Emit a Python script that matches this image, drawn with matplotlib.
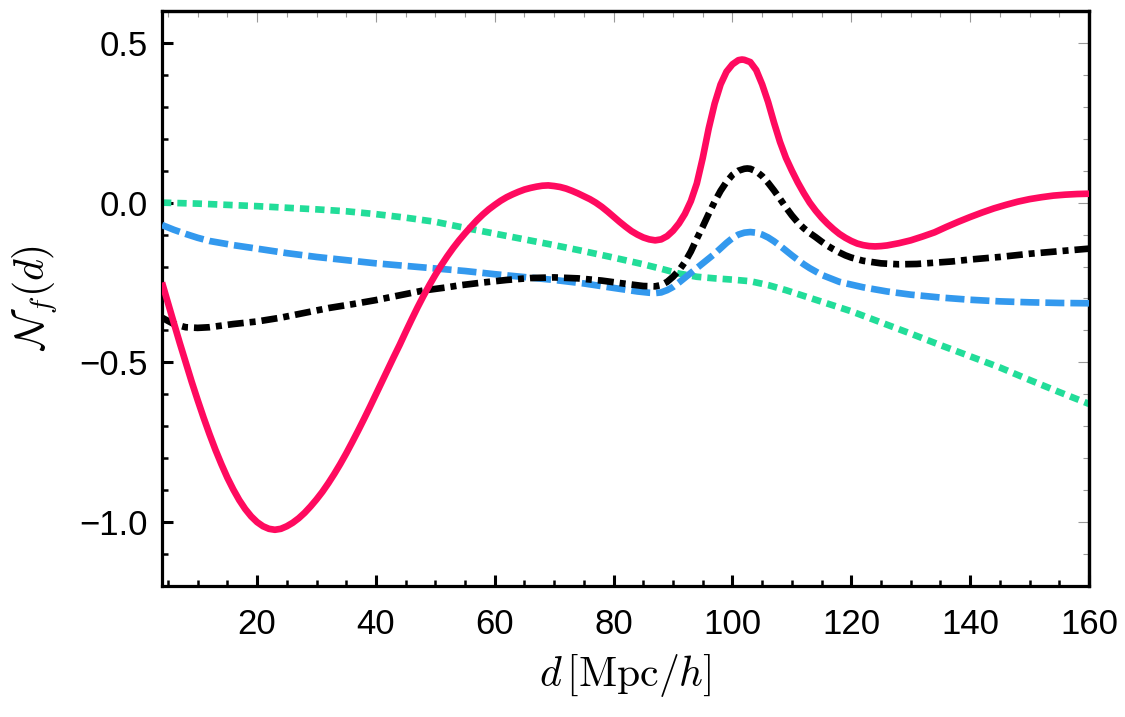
import matplotlib
matplotlib.use("Agg")
import matplotlib.pyplot as plt
from matplotlib.ticker import MultipleLocator

plt.rcParams['font.family'] = ['Liberation Sans', 'DejaVu Sans']
plt.rcParams['mathtext.fontset'] = 'cm'

# ---- data ----
red_x = [4, 5, 6, 7, 8, 9, 10, 11, 12, 13, 14, 15, 16, 17, 18, 19, 20, 21, 22, 23, 24, 25, 26, 27, 28,
         29, 30, 31, 32, 33, 34, 35, 36, 37, 38, 39, 40, 41, 42, 43, 44, 45, 46, 47, 48, 49, 50, 51, 52,
         53, 54, 55, 56, 57, 58, 59, 60, 61, 62, 63, 64, 65, 66, 67, 68, 69, 70, 71, 72, 73, 74, 75, 76,
         77, 78, 79, 80, 81, 82, 83, 84, 85, 86, 87, 88, 89, 90, 91, 92, 93, 94, 95, 96, 97, 98, 99, 100,
         101, 101.6, 102, 103, 104, 105, 106, 107, 108, 109, 110, 111, 112, 113, 114, 115, 116, 117, 118,
         119, 120, 121, 122, 123, 124, 125, 126, 128, 130, 132, 134, 136, 138, 140, 142, 144, 146, 148,
         150, 152, 154, 156, 158, 160]
red_y = [-0.250, -0.314, -0.377, -0.440, -0.501, -0.561, -0.618, -0.673, -0.725, -0.774, -0.819, -0.861,
         -0.898, -0.931, -0.959, -0.982, -1.000, -1.013, -1.021, -1.024, -1.021, -1.013, -1.002, -0.988,
         -0.971, -0.951, -0.929, -0.905, -0.878, -0.849, -0.818, -0.785, -0.750, -0.714, -0.677, -0.639,
         -0.600, -0.561, -0.522, -0.483, -0.445, -0.405, -0.366, -0.328, -0.292, -0.258, -0.226, -0.196,
         -0.168, -0.142, -0.118, -0.096, -0.075, -0.055, -0.037, -0.021, -0.007, 0.006, 0.017, 0.026,
         0.034, 0.041, 0.046, 0.050, 0.053, 0.054, 0.052, 0.049, 0.044, 0.037, 0.029, 0.020, 0.011,
         0.000, -0.013, -0.028, -0.044, -0.060, -0.075, -0.089, -0.100, -0.109, -0.115, -0.118, -0.115,
         -0.105, -0.088, -0.065, -0.035, 0.005, 0.060, 0.140, 0.232, 0.310, 0.370, 0.410, 0.433,
         0.446, 0.448, 0.447, 0.440, 0.415, 0.370, 0.315, 0.250, 0.190, 0.140, 0.100, 0.063, 0.030,
         0.000, -0.025, -0.047, -0.066, -0.083, -0.098, -0.110, -0.120, -0.128, -0.133, -0.136, -0.137,
         -0.136, -0.134, -0.127, -0.118, -0.106, -0.093, -0.076, -0.060, -0.045, -0.031, -0.018, -0.007,
         0.003, 0.011, 0.017, 0.022, 0.025, 0.027, 0.028]

black_x = [4, 6, 8, 10, 12, 14, 16, 20, 24, 28, 32, 36, 40, 44, 48, 52, 54, 58, 62, 66, 70, 74, 78, 82,
           85, 87, 88, 89, 90, 91, 92, 93, 94, 95, 96, 97, 98, 99, 100, 101, 102, 102.5, 103, 104, 105,
           106, 107, 108, 109, 110, 111, 112, 113, 114, 115, 116, 117, 118, 119, 120, 122, 125, 128, 131,
           134, 137, 140, 145, 150, 155, 160]
black_y = [-0.360, -0.380, -0.390, -0.392, -0.390, -0.385, -0.380, -0.372, -0.360, -0.345, -0.330,
           -0.318, -0.305, -0.290, -0.275, -0.265, -0.259, -0.250, -0.242, -0.236, -0.234, -0.237,
           -0.244, -0.254, -0.261, -0.262, -0.258, -0.248, -0.232, -0.212, -0.186, -0.153, -0.113,
           -0.075, -0.035, 0.003, 0.037, 0.065, 0.087, 0.100, 0.106, 0.107, 0.106, 0.098, 0.083, 0.062,
           0.038, 0.012, -0.015, -0.040, -0.062, -0.080, -0.095, -0.108, -0.122, -0.135, -0.146, -0.156,
           -0.165, -0.172, -0.182, -0.190, -0.193, -0.192, -0.188, -0.184, -0.178, -0.170, -0.160,
           -0.152, -0.144]

blue_x = [4, 6, 8, 10, 12, 16, 20, 25, 30, 35, 40, 45, 50, 55, 60, 65, 70, 75, 80, 84, 86, 87, 88, 89,
          90, 91, 92, 93, 94, 95, 96, 97, 98, 99, 100, 101, 102, 103, 104, 105, 106, 107, 108, 109, 110,
          111, 112, 113, 115, 118, 122, 126, 130, 135, 140, 145, 150, 155, 160]
blue_y = [-0.070, -0.085, -0.098, -0.110, -0.120, -0.133, -0.144, -0.158, -0.170, -0.180, -0.190,
          -0.198, -0.206, -0.214, -0.224, -0.233, -0.242, -0.253, -0.267, -0.278, -0.282, -0.283,
          -0.281, -0.274, -0.264, -0.250, -0.235, -0.220, -0.205, -0.190, -0.175, -0.160, -0.143,
          -0.126, -0.111, -0.100, -0.094, -0.092, -0.094, -0.100, -0.109, -0.121, -0.135, -0.150,
          -0.165, -0.179, -0.193, -0.205, -0.226, -0.248, -0.265, -0.278, -0.288, -0.297, -0.304,
          -0.309, -0.312, -0.314, -0.315]

green_x = [4, 10, 15, 20, 25, 30, 35, 40, 45, 50, 55, 60, 65, 70, 75, 80, 85, 88, 91, 94, 97, 100, 103,
           106, 109, 112, 115, 120, 125, 130, 135, 140, 145, 150, 155, 160]
green_y = [0.000, -0.003, -0.007, -0.011, -0.016, -0.021, -0.027, -0.036, -0.047, -0.060, -0.079,
           -0.097, -0.115, -0.133, -0.152, -0.172, -0.193, -0.207, -0.222, -0.232, -0.237, -0.241,
           -0.246, -0.258, -0.274, -0.292, -0.310, -0.340, -0.375, -0.410, -0.446, -0.481, -0.516,
           -0.555, -0.593, -0.630]

x_ticks = [20, 40, 60, 80, 100, 120, 140, 160]
y_ticks = [-1.0, -0.5, 0.0, 0.5]
y_ticklabels = ['\u22121.0', '\u22120.5', '0.0', '0.5']

# ---- figure ----
fig = plt.figure(figsize=(11.25, 7.17), dpi=100)
ax = fig.add_axes([0.144, 0.1827, 0.824, 0.802])

ax.plot(green_x, green_y, color='#22DD99', lw=4.8, dashes=(1.4, 0.9), zorder=2)
ax.plot(blue_x, blue_y, color='#3399EE', lw=4.8, dashes=(2.85, 0.9), zorder=3)
ax.plot(black_x, black_y, color='black', lw=4.8, dashes=(2.4, 0.9, 0.9, 0.9), zorder=4)
ax.plot(red_x, red_y, color='#FF0A5F', lw=4.8, solid_capstyle='butt', solid_joinstyle='round', zorder=5)

ax.set_xlim(4, 160)
ax.set_ylim(-1.2, 0.6)
ax.set_xticks(x_ticks)
ax.set_yticks(y_ticks)
ax.set_yticklabels(y_ticklabels)
ax.xaxis.set_minor_locator(MultipleLocator(5))
ax.yaxis.set_minor_locator(MultipleLocator(0.1))

for s in ax.spines.values():
    s.set_linewidth(2.3)

ax.tick_params(which='both', direction='in', top=False, right=False, labelsize=25, color='black')
ax.tick_params(which='major', length=8, width=2.2)
ax.tick_params(which='minor', length=4.5, width=1.8)
ax.tick_params(axis='x', which='major', pad=16)
ax.tick_params(axis='y', which='major', pad=10)

# thin grey ticks on top and right
secx = ax.secondary_xaxis('top')
secx.set_xticks(x_ticks)
secx.xaxis.set_minor_locator(MultipleLocator(5))
secx.tick_params(which='both', direction='in', color='#999999', width=0.8, labeltop=False)
secx.tick_params(which='major', length=8)
secx.tick_params(which='minor', length=4.5)
secx.spines['top'].set_linewidth(2.3)

secy = ax.secondary_yaxis('right')
secy.set_yticks(y_ticks)
secy.yaxis.set_minor_locator(MultipleLocator(0.1))
secy.tick_params(which='both', direction='in', color='#999999', width=0.8, labelright=False)
secy.tick_params(which='major', length=8)
secy.tick_params(which='minor', length=4.5)
secy.spines['right'].set_linewidth(2.3)

ax.set_xlabel(r'$d\,[\mathrm{Mpc}/h]$', fontsize=30, labelpad=8)
ax.set_ylabel(r'$\mathcal{N}_f(d)$', fontsize=30, labelpad=14)

fig.savefig('out.png', dpi=100)
